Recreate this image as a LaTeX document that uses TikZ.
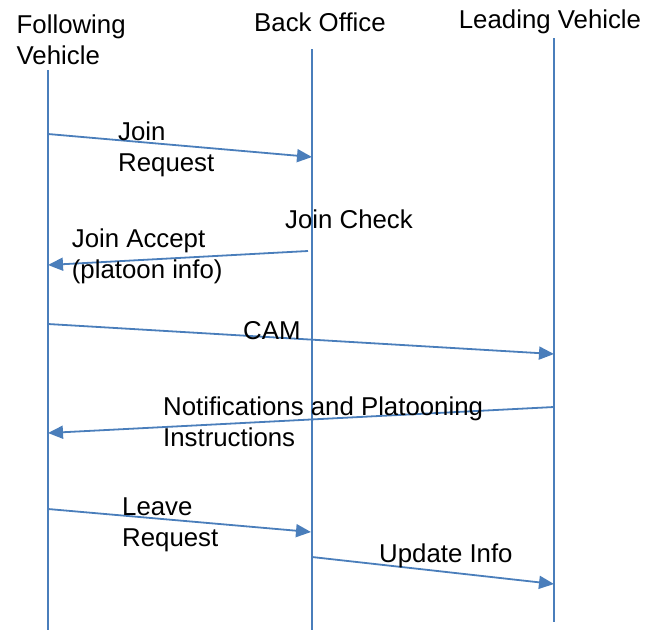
\documentclass[tikz,border=0pt]{standalone}
\usepackage{fontspec}
\setmainfont{Liberation Sans}
\usetikzlibrary{arrows.meta}
\definecolor{msgblue}{HTML}{4A7EBB}
\begin{document}
\begin{tikzpicture}[x=1pt,y=-1pt,
  lifeline/.style={draw=msgblue,line width=1.8pt},
  msg/.style={draw=msgblue,line width=1.8pt,-{Triangle[length=15pt,width=13pt]}},
  lbl/.style={inner sep=0pt,anchor=base west,align=left,
    font=\fontsize{25.8}{31.5}\selectfont}]
\useasboundingbox (0,0) rectangle (648,630);

% participants (a multi-line label sits on the baseline of its last line)
\node[lbl] (fv) at (16.5,64.5) {Following\\Vehicle};
\node[lbl] (bo) at (254,31.7) {Back Office};
\node[lbl] (lv) at (458.7,28.3) {Leading Vehicle};

% lifelines
\coordinate (fvtop) at (48,70);   \coordinate (fvbot) at (48,630);
\coordinate (botop) at (312,49);  \coordinate (bobot) at (312,630);
\coordinate (lvtop) at (554,38);  \coordinate (lvbot) at (554,622);
\draw[lifeline] (fvtop) -- (fvbot);
\draw[lifeline] (botop) -- (bobot);
\draw[lifeline] (lvtop) -- (lvbot);

% message end points
\coordinate (m1a) at (48,134);  \coordinate (m1b) at (312,157);
\coordinate (m2a) at (308,251); \coordinate (m2b) at (48,265);
\coordinate (m3a) at (48,324);  \coordinate (m3b) at (554,354);
\coordinate (m4a) at (554,407); \coordinate (m4b) at (48,433);
\coordinate (m5a) at (48,509);  \coordinate (m5b) at (311,532);
\coordinate (m6a) at (312,557); \coordinate (m6b) at (554,584);

% messages
\draw[msg] (m1a) -- (m1b);
\draw[msg] (m2a) -- (m2b);
\draw[msg] (m3a) -- (m3b);
\draw[msg] (m4a) -- (m4b);
\draw[msg] (m5a) -- (m5b);
\draw[msg] (m6a) -- (m6b);

% message labels
\node[lbl] (l1) at (118,171.5) {Join\\Request};
\node[lbl] (l2) at (285,228) {Join Check};
\node[lbl] (l3) at (71.7,278.5) {Join Accept\\(platoon info)};
\node[lbl] (l4) at (243,339) {CAM};
\node[lbl] (l5) at (163,446.5) {Notifications and Platooning\\Instructions};
\node[lbl] (l6) at (122,546.5) {Leave\\Request};
\node[lbl] (l7) at (379,562) {Update Info};
\end{tikzpicture}
\end{document}
